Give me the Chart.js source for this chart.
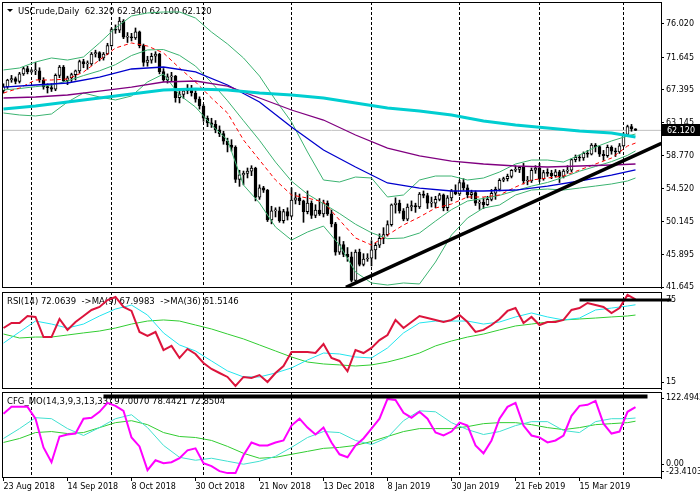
<!DOCTYPE html>
<html>
<head>
<meta charset="utf-8">
<title>USCrude, Daily</title>
<script src="https://cdn.jsdelivr.net/npm/chart.js@4.4.1/dist/chart.umd.min.js"></script>
<style>
  html, body { margin: 0; padding: 0; background: #fff; }
  #wrap { position: relative; width: 700px; height: 500px; overflow: hidden; }
  .pane { position: absolute; left: 0; width: 700px; }
</style>
</head>
<body>
<div id="wrap">
  <div class="pane" style="top:0;height:292px"><canvas id="priceChart"></canvas></div>
  <div class="pane" style="top:290px;height:100px"><canvas id="rsiChart"></canvas></div>
  <div class="pane" style="top:390px;height:110px"><canvas id="cfgChart"></canvas></div>
</div>
<script>
// one bar per trading day, 23 Aug 2018 (bar 0) .. 4 Apr 2019 (bar 158)
const opens = [
  67.3,67.8,68.7,68.9,68.5,69.5,70.2,69.8,69.9,69.9,
  68.7,67.8,67.7,67.5,69.3,70.4,68.6,69.0,69.4,69.9,
  71.1,70.8,70.8,72.1,72.3,71.6,72.1,73.2,75.3,75.2,
  76.4,74.3,74.3,74.2,75.0,73.2,71.0,71.3,71.8,72.1,
  69.8,68.7,69.1,69.2,66.4,66.8,67.3,67.6,67.0,66.2,
  65.3,63.7,63.1,62.9,62.2,61.7,60.7,60.2,59.9,55.7,
  56.3,56.5,56.8,57.2,53.4,54.6,54.3,50.4,51.6,51.6,
  50.3,51.5,50.9,53.0,53.3,52.9,51.5,52.6,51.0,51.7,
  51.2,52.6,51.2,49.9,46.2,47.2,45.9,45.6,42.5,46.2,
  44.6,45.3,45.4,46.5,47.1,48.0,48.5,49.8,52.4,52.6,
  51.6,50.5,52.1,52.3,52.1,53.8,53.6,52.6,52.6,53.1,
  53.7,52.0,53.3,54.2,53.8,55.3,54.6,53.7,54.0,52.6,
  52.7,52.4,53.1,53.9,54.4,55.6,55.8,56.1,56.9,57.0,
  57.3,55.5,55.5,56.9,57.2,55.8,56.6,56.5,56.2,56.7,
  56.1,56.8,56.9,58.3,58.6,58.5,59.1,59.0,60.2,60.0,
  59.0,58.8,59.9,59.4,59.3,60.1,61.6,62.6,62.32
];
const highs = [
  68.2,68.8,69.3,69.1,69.7,70.4,70.5,70.1,71.0,70.3,
  69.0,68.2,68.2,69.5,70.6,70.6,69.2,69.6,70.0,71.3,
  71.4,71.2,72.3,72.6,72.4,72.3,73.5,75.5,75.9,76.9,
  76.6,74.9,74.8,75.5,75.1,73.4,71.8,72.2,72.4,72.2,
  70.2,69.5,69.7,69.3,67.2,67.6,68.1,68.0,67.3,66.5,
  65.5,64.0,63.7,63.4,62.7,62.0,61.1,60.9,60.1,56.9,
  56.8,57.2,57.5,57.3,55.0,54.8,54.4,52.2,52.0,52.1,
  51.8,52.0,54.6,54.0,53.8,53.0,54.2,52.9,52.4,53.2,
  53.0,52.9,51.7,50.1,48.2,47.6,46.8,46.2,46.5,46.6,
  46.0,46.0,47.7,47.4,48.6,49.4,50.3,52.5,53.3,53.0,
  51.9,52.5,52.9,52.6,54.0,54.2,53.9,53.4,53.5,53.9,
  53.8,53.6,54.4,55.0,55.6,55.8,55.0,54.3,54.2,53.0,
  53.3,53.5,54.4,54.7,55.8,56.0,56.4,57.0,57.5,57.4,
  57.8,56.1,57.2,57.5,57.8,56.9,57.1,56.9,57.0,56.9,
  57.0,57.5,58.4,58.9,58.9,59.3,59.5,60.4,60.4,60.1,
  59.5,60.2,60.1,59.8,60.4,61.8,62.8,62.9,62.34
];
const lows = [
  67.0,67.6,68.4,68.2,68.3,69.3,69.5,69.6,69.4,68.4,
  67.5,67.0,67.2,67.3,69.0,68.5,68.1,68.5,68.7,69.6,
  70.3,70.1,70.6,71.7,71.2,71.3,72.0,73.1,74.8,74.9,
  74.1,73.6,73.8,74.0,72.9,70.5,70.5,70.9,71.0,69.5,
  68.5,68.3,68.6,65.8,65.7,66.3,66.9,66.6,65.8,64.9,
  63.3,62.6,62.5,61.8,61.3,60.3,59.3,59.4,55.3,54.8,
  55.0,55.9,56.2,52.9,53.1,54.0,50.2,49.9,50.8,50.1,
  50.0,50.4,50.8,52.5,52.4,50.1,51.2,50.6,50.7,51.0,
  50.8,51.0,49.5,45.8,45.9,45.6,45.0,42.3,42.4,44.4,
  44.4,45.0,44.4,45.3,46.8,47.3,48.3,49.6,51.3,51.3,
  50.3,50.3,51.6,51.4,51.9,53.3,51.9,52.1,52.0,52.9,
  51.6,51.6,52.9,53.7,53.6,54.3,53.3,53.2,52.3,51.8,
  51.9,52.3,52.9,53.1,54.2,55.4,55.5,55.9,56.7,56.6,
  55.1,55.0,55.3,56.5,55.4,55.6,56.1,55.8,56.0,55.3,
  55.9,56.5,56.7,58.0,58.1,58.2,58.6,58.9,59.3,58.7,
  58.2,58.6,59.0,58.7,59.1,60.0,61.4,62.0,62.10
];
const closes = [
  67.8,68.7,68.9,68.5,69.5,70.2,69.8,69.9,69.9,68.7,
  67.8,67.7,67.5,69.3,70.4,68.6,69.0,69.4,69.9,71.1,
  70.8,70.8,72.1,72.3,71.6,72.1,73.2,75.3,75.2,76.4,
  74.3,74.3,74.2,75.0,73.2,71.0,71.3,71.8,72.1,69.8,
  68.7,69.1,69.2,66.4,66.8,67.3,67.6,67.0,66.2,65.3,
  63.7,63.1,62.9,62.2,61.7,60.7,60.2,59.9,55.7,56.3,
  56.5,56.8,57.2,53.4,54.6,54.3,50.4,51.6,51.6,50.3,
  51.5,50.9,53.0,53.3,52.9,51.5,52.6,51.0,51.7,51.2,
  52.6,51.2,49.9,46.2,47.2,45.9,45.6,42.5,46.2,44.6,
  45.3,45.4,46.5,47.1,48.0,48.5,49.8,52.4,52.6,51.6,
  50.5,52.1,52.3,52.1,53.8,53.6,52.6,52.6,53.1,53.7,
  52.0,53.3,54.2,53.8,55.3,54.6,53.7,54.0,52.6,52.7,
  52.4,53.1,53.9,54.4,55.6,55.8,56.1,56.9,57.0,57.3,
  55.5,55.5,56.9,57.2,55.8,56.6,56.5,56.2,56.7,56.1,
  56.8,56.9,58.3,58.6,58.5,59.1,59.0,60.2,60.0,59.0,
  58.8,59.9,59.4,59.3,60.1,61.6,62.6,62.3,62.12
];

const xLabels = ['23 Aug 2018', '14 Sep 2018', '8 Oct 2018', '30 Oct 2018', '21 Nov 2018',
                 '13 Dec 2018', '8 Jan 2019', '30 Jan 2019', '21 Feb 2019', '15 Mar 2019'];
const xLabelBars = [0, 16, 32, 48, 64, 80, 96, 112, 128, 144];
const monthBars = [7, 27, 50, 72, 92, 114, 134, 155];

const priceTicks = [76.020, 71.645, 67.395, 63.145, 58.770, 54.520, 50.145, 45.895, 41.645];
const lastPrice = 62.12;

// slow averages, read every 8th bar (+ last bar)
const ma200 = [64.91,65.30,65.82,66.35,66.87,67.39,67.52,67.39,67.00,66.74,66.35,65.69,65.04,64.65,64.12,63.34,62.82,62.43,62.03,61.77,61.25];
const ma100 = [66.35,66.48,66.74,67.26,67.78,68.44,68.57,67.91,66.35,64.78,63.47,61.51,59.81,58.77,58.11,57.72,57.46,57.33,57.46,57.59,57.72];
const ma50  = [67.78,68.05,68.31,69.09,70.14,70.40,69.75,68.05,65.82,62.56,59.55,57.33,55.24,54.58,54.19,54.19,54.32,54.84,55.50,56.28,56.94];

// fast average and Bollinger bands, read every 4th bar (+ last bar)
const maFast = [67.0,67.65,68.7,68.7,68.83,69.74,71.31,72.88,73.54,73.14,72.23,70.27,68.44,66.35,64.39,60.86,58.24,55.63,53.67,53.27,52.75,50.40,48.05,47.13,48.44,49.75,50.79,51.97,52.49,53.41,53.41,53.67,54.71,55.63,55.89,56.15,56.94,57.72,58.5,60.07,60.46];
const bbUpper = [70.01,70.27,71.05,71.58,71.31,71.71,73.54,75.50,77.07,77.46,77.59,77.59,76.80,74.97,73.41,71.58,69.22,66.09,63.21,59.29,55.63,55.37,56.02,55.89,53.41,53.67,55.63,56.15,56.15,55.63,55.89,56.67,57.72,58.24,58.24,57.98,58.90,59.94,60.73,61.38,61.64];
const bbMiddle = [67.4,67.58,67.83,68.03,68.58,69.28,69.90,70.71,71.90,72.63,72.68,71.92,70.52,68.37,65.99,63.38,60.81,57.97,55.48,53.78,52.52,51.25,49.85,48.73,47.96,48.05,48.70,50.26,51.76,52.88,53.22,53.62,54.23,54.83,55.31,55.99,56.78,57.40,58.03,58.85,59.43];
const bbLower = [64.39,64.13,64.00,64.26,65.82,67.00,66.48,66.09,66.61,68.44,69.48,66.74,65.17,62.82,60.86,54.97,52.62,49.48,47.78,48.83,49.61,47.13,43.60,42.17,41.90,42.17,42.04,44.91,48.44,50.66,51.97,52.36,53.67,54.32,54.45,54.32,54.58,54.84,55.11,55.50,55.89];

const trendBars = [85.6, 164.5];
const trendPrices = [41.6, 60.43];

// RSI every 2nd bar, its averages every 4th bar (+ last bar)
const rsi = [
  54.5,58.2,58.2,63.3,62.6,47.9,47.9,61.1,53.1,58.9,
  63.3,67.7,69.9,75.0,77.2,69.9,67.0,51.6,48.7,51.6,
  38.4,41.4,32.6,39.2,35.5,28.9,24.5,21.6,18.7,12.1,
  18.7,17.9,20.1,15.0,21.6,26.7,37.0,37.0,37.0,36.2,
  42.8,32.6,30.4,22.8,38.4,36.2,39.9,45.7,49.4,60.4,
  54.5,58.9,63.3,61.8,60.4,58.9,60.4,64.0,58.9,51.6,
  53.1,56.7,61.1,67.0,69.1,58.2,62.6,56.7,58.9,58.9,
  60.4,67.7,69.1,72.8,71.3,69.9,65.5,69.1,78.7,75.5
];
const rsiMa9 = [43.5,51.6,59.6,57.4,54.5,57.4,63.3,68.4,71.3,64.0,50.9,42.1,37.7,30.4,23.1,18.7,18.7,21.6,25.3,31.1,36.2,35.5,33.3,32.6,39.9,50.9,58.2,59.6,59.6,59.6,57.4,58.9,62.6,65.5,62.6,60.4,61.8,67.7,69.1,70.6,71.5];
const rsiMa36 = [50.1,47.2,47.9,47.9,49.4,50.9,52.3,54.5,57.4,59.6,60.4,59.6,56.7,53.8,50.1,46.5,42.1,37.7,33.3,29.6,28.2,27.5,26.7,27.5,29.6,32.6,36.2,41.4,45.0,47.9,50.1,53.1,56.0,57.4,58.9,60.4,61.1,61.8,62.6,63.3,64.0];
const rsiTicks = [15, 75];
const rsiMarkBars = [144, 167];
const rsiMarkLevel = 75;

// CFG_MO every 2nd bar, its signals every 4th bar (+ last bar)
const cfgMain = [
  85.6,97.3,97.3,97.3,77.2,28.5,3.4,47.0,50.4,52.0,
  77.2,78.9,88.9,104.0,99.0,90.6,45.3,30.2,-10.1,6.7,
  1.7,3.4,10.1,23.5,26.9,1.7,-3.3,-11.7,-15.1,-15.1,
  15.1,36.9,31.9,31.9,36.9,40.3,65.5,77.2,62.1,50.4,
  62.1,36.9,16.8,11.8,31.9,43.6,60.4,77.2,110.7,109.1,
  87.2,78.9,88.9,77.2,53.7,48.7,55.4,70.5,65.5,31.9,
  18.5,40.3,77.2,97.3,104.0,65.5,48.7,45.3,36.9,40.3,
  48.7,82.2,99.0,100.7,107.4,68.8,52.0,55.4,88.9,97.0
];
const cfgSig1 = [43.6,60.4,78.9,77.2,60.4,48.7,62.1,77.2,83.9,62.1,31.9,11.7,6.7,10.1,5.0,0.0,5.0,13.4,28.5,45.3,55.4,53.7,40.3,33.5,45.3,73.8,90.6,88.9,70.5,58.7,50.4,55.4,65.5,72.2,72.2,57.1,53.7,72.2,77.2,77.2,78.4];
const cfgSig2 = [36.9,43.6,53.7,55.4,52.0,53.7,62.1,70.5,73.8,67.1,53.7,47.0,45.3,40.3,30.2,18.5,10.1,11.7,16.8,21.8,26.9,28.5,31.9,38.6,47.0,55.4,60.4,60.4,60.4,63.8,68.8,70.5,70.5,67.1,62.1,58.7,62.1,67.1,68.8,70.5,72.9];
const cfgMax = 122.4943;
const cfgMin = -23.4103;
const cfgTickLabels = ['122.4943', '0.00', '-23.4103'];
const cfgMarkBars = [25, 161];
const cfgMarkLevel = 115;

// ---------------------------------------------------------------
Chart.defaults.font.family = "'DejaVu Sans', sans-serif";
Chart.defaults.font.size = 8;
Chart.defaults.color = '#000';
Chart.defaults.animation = false;
Chart.defaults.events = [];
Chart.defaults.plugins.legend.display = false;
Chart.defaults.plugins.tooltip.enabled = false;

const X_MIN = -0.375, X_MAX = 164.375;   // 4 px per bar
const lastBar = closes.length - 1;

function barsEvery(step) {
  const out = [];
  for (let b = 0; b < lastBar; b += step) out.push(b);
  out.push(lastBar);
  return out;
}
const every2 = barsEvery(2), every4 = barsEvery(4), every8 = barsEvery(8);
const pts = (bars, vals) => vals.map((v, i) => ({ x: bars[i], y: v }));

function line(data, color, width, extra = {}) {
  return Object.assign({ type: 'line', data: data, borderColor: color, borderWidth: width,
    pointRadius: 0, fill: false, order: 1 }, extra);
}

function xAxis(show) {
  const ax = { type: 'linear', min: X_MIN, max: X_MAX, offset: false, display: show,
    grid: { display: false, offset: false } };
  if (show) {
    ax.position = 'bottom';
    ax.afterFit = (s) => { s.height = 22; s.paddingLeft = 0; s.paddingRight = 0; };
    ax.afterBuildTicks = (s) => { s.ticks = xLabelBars.map(v => ({ value: v })); };
    ax.grid = { display: true, offset: false, drawOnChartArea: false, drawTicks: true, tickLength: 3, color: '#000' };
    ax.border = { display: false };
    ax.ticks = { align: 'start', maxRotation: 0, autoSkip: false, padding: 1,
      callback: (v, i) => xLabels[i] };
  }
  return ax;
}

function yAxis(min, max, tickVals, fmt) {
  return {
    type: 'linear', position: 'right', min: min, max: max,
    afterFit: (s) => { s.width = 39; s.paddingTop = 0; s.paddingBottom = 0; },
    afterBuildTicks: (s) => { s.ticks = tickVals.map(v => ({ value: v })); },
    grid: { drawOnChartArea: false, drawTicks: true, tickLength: 3, color: '#000' },
    border: { display: true, color: '#000' },
    ticks: { padding: 2, autoSkip: false, callback: fmt }
  };
}

const mtFrame = {
  id: 'mtFrame',
  beforeDatasetsDraw(chart, args, o) {
    const { ctx, chartArea: a, scales: { x } } = chart;
    ctx.save();
    ctx.strokeStyle = '#000';
    ctx.lineWidth = 1;
    ctx.setLineDash([3, 2]);
    monthBars.forEach(b => {
      const px = Math.floor(x.getPixelForValue(b)) + 0.5;
      ctx.beginPath();
      ctx.moveTo(px, a.top);
      ctx.lineTo(px, a.bottom);
      ctx.stroke();
    });
    ctx.setLineDash([]);
    if (o.caption) {
      ctx.font = "8.5px 'DejaVu Sans'";
      ctx.fillStyle = '#000';
      ctx.fillText(o.caption, o.captionX, a.top + o.captionDy);
    }
    if (o.triangle) {
      ctx.fillStyle = '#000';
      ctx.beginPath();
      ctx.moveTo(7, a.top + 7);
      ctx.lineTo(13, a.top + 7);
      ctx.lineTo(10, a.top + 10);
      ctx.closePath();
      ctx.fill();
    }
    ctx.restore();
  },
  afterDraw(chart, args, o) {
    const { ctx, chartArea: a, scales: { x, y } } = chart;
    ctx.save();
    ctx.strokeStyle = '#000';
    ctx.lineWidth = 1;
    ctx.strokeRect(a.left + 0.5, a.top + 0.5, a.right - a.left, a.bottom - a.top - 1);
    if (o.markBars) {
      const py = y.getPixelForValue(o.markLevel);
      ctx.lineWidth = o.markWidth;
      ctx.beginPath();
      ctx.moveTo(x.getPixelForValue(o.markBars[0]), py);
      ctx.lineTo(x.getPixelForValue(o.markBars[1]), py);
      ctx.stroke();
    }
    if (o.tag !== undefined) {
      const py = Math.round(y.getPixelForValue(o.tag));
      ctx.fillStyle = '#000';
      ctx.fillRect(a.right + 1, py - 6, chart.width - a.right, 12);
      ctx.fillStyle = '#fff';
      ctx.font = "8px 'DejaVu Sans'";
      ctx.textBaseline = 'middle';
      ctx.fillText(o.tag.toFixed(3), a.right + 6, py + 0.5);
    }
    ctx.restore();
  }
};

function options(pad, yCfg, xCfg, frame) {
  return {
    responsive: true, maintainAspectRatio: false,
    layout: { padding: pad },
    scales: { x: xCfg, y: yCfg },
    plugins: { mtFrame: frame }
  };
}

// ---- price window
const bodies = closes.map((c, i) => ({ x: i, y: [Math.min(opens[i], c), Math.max(opens[i], c)] }));
const wicks = closes.map((c, i) => ({ x: i, y: [lows[i], highs[i]] }));
const bodyFill = closes.map((c, i) => (c >= opens[i] ? '#ffffff' : '#000000'));

const priceMax = 76.02 + 22 / 7.651;
const priceMin = 41.645 - 1 / 7.651;

new Chart(document.getElementById('priceChart'), {
  type: 'bar',
  data: {
    datasets: [
      line(pts(trendBars, trendPrices), '#000000', 3.5, { order: -1 }),
      line(pts(every8, ma200), '#00CED1', 3),
      line(pts(every8, ma100), '#800080', 1.3),
      line(pts(every8, ma50), '#0000CD', 1.3),
      line(pts(every4, maFast), '#FF0000', 1, { borderDash: [4, 3] }),
      line(pts(every4, bbUpper), '#3CB371', 1),
      line(pts(every4, bbMiddle), '#3CB371', 1),
      line(pts(every4, bbLower), '#3CB371', 1),
      { type: 'bar', data: bodies, backgroundColor: bodyFill, borderColor: '#000', borderWidth: 1,
        borderSkipped: false, barThickness: 3, grouped: false, minBarLength: 1, order: 5 },
      { type: 'bar', data: wicks, backgroundColor: '#000', borderWidth: 0,
        barThickness: 1, grouped: false, order: 6 },
      line([{ x: X_MIN, y: lastPrice }, { x: X_MAX, y: lastPrice }], '#C0C0C0', 1, { order: 7 })
    ]
  },
  options: options({ left: 2, right: 0, top: 2, bottom: 4 },
    yAxis(priceMin, priceMax, priceTicks, (v) => v.toFixed(3)),
    xAxis(false),
    { caption: 'USCrude,Daily  62.320 62.340 62.100 62.120', captionX: 18, captionDy: 12,
      triangle: true, tag: lastPrice }),
  plugins: [mtFrame]
});

// ---- RSI window
new Chart(document.getElementById('rsiChart'), {
  type: 'line',
  data: {
    datasets: [
      line(pts(every2, rsi), '#DC143C', 2),
      line(pts(every4, rsiMa9), '#22E5EE', 1),
      line(pts(every4, rsiMa36), '#32CD32', 1)
    ]
  },
  options: options({ left: 2, right: 0, top: 2, bottom: 1 },
    yAxis(15 - 7 / 1.3667, 75 + 8 / 1.3667, rsiTicks, (v) => String(v)),
    xAxis(false),
    { caption: 'RSI(14) 72.0639  ->MA(9) 67.9983  ->MA(36) 61.5146', captionX: 7, captionDy: 12,
      markBars: rsiMarkBars, markLevel: rsiMarkLevel, markWidth: 3 }),
  plugins: [mtFrame]
});

// ---- CFG_MO window with the date axis
const cfgInset = (cfgMax - cfgMin) * 0.07;
new Chart(document.getElementById('cfgChart'), {
  type: 'line',
  data: {
    datasets: [
      line(pts(every2, cfgMain), '#FF00FF', 2),
      line(pts(every4, cfgSig1), '#40E0D0', 1),
      line(pts(every4, cfgSig2), '#32CD32', 1)
    ]
  },
  options: options({ left: 2, right: 0, top: 2, bottom: 0 },
    yAxis(cfgMin, cfgMax, [cfgMax - cfgInset, 0, cfgMin + cfgInset], (v, i) => cfgTickLabels[i]),
    xAxis(true),
    { caption: 'CFG_MO(14,3,9,3,13,33) 97.0070 78.4421 72.8504', captionX: 7, captionDy: 12,
      markBars: cfgMarkBars, markLevel: cfgMarkLevel, markWidth: 4 }),
  plugins: [mtFrame]
});
</script>
</body>
</html>
